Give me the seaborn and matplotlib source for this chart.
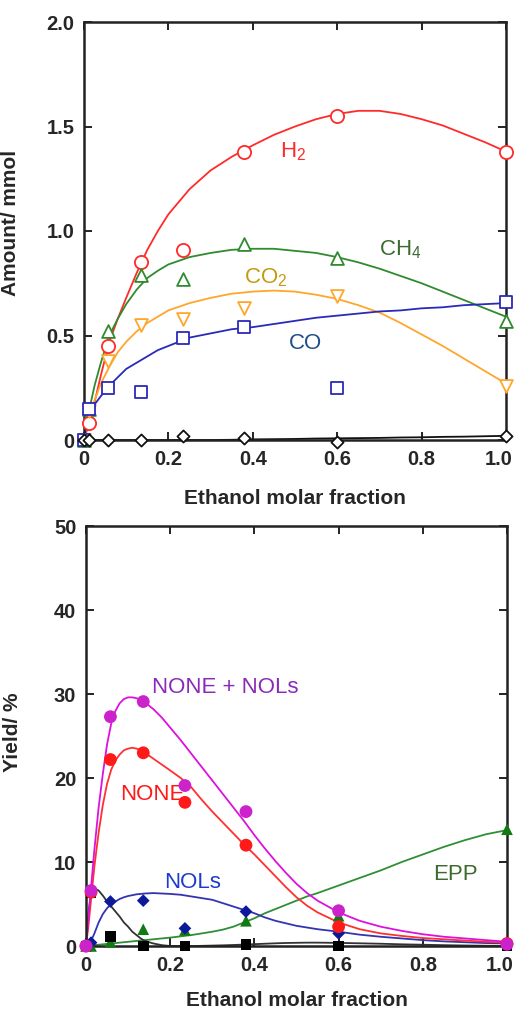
import numpy as np
import seaborn as sns
from matplotlib import pyplot as plt
from matplotlib.transforms import ScaledTranslation

sns.set_style('ticks')
plt.rcParams['font.family'] = ['Liberation Sans', 'DejaVu Sans']
plt.rcParams['mathtext.default'] = 'regular'

# measured points (same ethanol fractions in both panels)
x_pts = [0, 0.012, 0.058, 0.136, 0.235, 0.38, 0.6, 1.0]

h2 = [0, 0.08, 0.45, 0.85, 0.91, 1.38, 1.55, 1.38]
ch4 = [0, 0.15, 0.52, 0.79, 0.77, 0.94, 0.87, 0.57]
co2 = [0, 0.14, 0.38, 0.55, 0.58, 0.63, 0.69, 0.26]
co = [0, 0.15, 0.25, 0.23, 0.49, 0.54, 0.25, 0.66]
other = [0, 0.0, 0.0, 0.0, 0.02, 0.01, -0.01, 0.02]

none_nols = [0, 6.6, 27.3, 29.1, 19.1, 16.0, 4.2, 0.2]
none = [0, 6.4, 22.2, 23.0, 17.1, 12.0, 2.3, 0.3]
nols = [0, 0.4, 5.3, 5.4, 2.1, 4.1, 1.5, 0.3]
epp = [0, 0.0, 0.5, 2.0, 1.9, 3.0, 3.6, 13.9]
black_sq = [0, 6.3, 1.1, 0.0, 0.0, 0.2, 0.0, 0.1]

# fitted curves
cx_top = [0, 0.012, 0.025, 0.04, 0.06, 0.08, 0.1, 0.125, 0.15, 0.175, 0.2, 0.25, 0.3, 0.35,
          0.4, 0.45, 0.5, 0.55, 0.6, 0.65, 0.7, 0.75, 0.8, 0.85, 0.9, 0.95, 1.0]
h2_fit = [0, 0.08, 0.18, 0.31, 0.47, 0.58, 0.68, 0.80, 0.91, 1.00, 1.08, 1.20, 1.29, 1.355,
          1.41, 1.46, 1.50, 1.535, 1.56, 1.575, 1.575, 1.56, 1.535, 1.505, 1.465, 1.425, 1.38]
ch4_fit = [0, 0.14, 0.26, 0.37, 0.50, 0.58, 0.65, 0.72, 0.775, 0.81, 0.84, 0.875, 0.895, 0.91,
           0.915, 0.915, 0.905, 0.895, 0.875, 0.85, 0.82, 0.785, 0.75, 0.71, 0.67, 0.63, 0.59]
co2_fit = [0, 0.12, 0.19, 0.27, 0.35, 0.42, 0.47, 0.52, 0.56, 0.59, 0.62, 0.655, 0.68, 0.70,
           0.71, 0.715, 0.71, 0.695, 0.675, 0.645, 0.61, 0.56, 0.505, 0.45, 0.39, 0.33, 0.27]
co_fit = [0, 0.14, 0.17, 0.21, 0.26, 0.30, 0.34, 0.37, 0.40, 0.43, 0.45, 0.49, 0.51, 0.53,
          0.54, 0.555, 0.57, 0.585, 0.595, 0.605, 0.615, 0.62, 0.63, 0.635, 0.645, 0.65, 0.655]
other_fit = [0, 0, 0, 0, 0, 0, 0, 0, 0, 0, 0, 0, 0, 0.001,
             0.003, 0.004, 0.005, 0.007, 0.008, 0.009, 0.01, 0.012, 0.013, 0.015, 0.016, 0.018, 0.02]

cx_bot = [0, 0.006, 0.012, 0.02, 0.03, 0.04, 0.05, 0.06, 0.07, 0.08, 0.09, 0.1, 0.11, 0.12,
          0.13, 0.14, 0.16, 0.18, 0.2, 0.225, 0.25, 0.275, 0.3, 0.325, 0.35, 0.375, 0.4, 0.425,
          0.45, 0.475, 0.5, 0.525, 0.55, 0.6, 0.65, 0.7, 0.75, 0.8, 0.85, 0.9, 0.95, 1.0]
none_nols_fit = [0, 3.5, 7.0, 11.5, 16.5, 20.5, 24.0, 26.5, 28.0, 28.9, 29.4, 29.6, 29.6, 29.5,
                 29.3, 29.0, 28.2, 27.2, 26.0, 24.5, 22.9, 21.3, 19.7, 18.1, 16.5, 14.9, 13.2, 11.6,
                 10.1, 8.7, 7.4, 6.3, 5.4, 4.0, 3.0, 2.3, 1.8, 1.4, 1.1, 0.9, 0.7, 0.5]
none_fit = [0, 2.5, 5.5, 9.5, 13.5, 16.8, 19.3, 21.0, 22.1, 22.8, 23.3, 23.5, 23.6, 23.5,
            23.3, 23.0, 22.3, 21.6, 20.9, 20.0, 18.9, 17.4, 16.0, 14.7, 13.4, 12.1, 10.9, 9.6,
            8.3, 7.0, 5.8, 4.8, 4.0, 2.8, 2.0, 1.5, 1.2, 0.95, 0.8, 0.65, 0.5, 0.4]
nols_fit = [0, 0.3, 0.6, 1.5, 2.8, 3.8, 4.5, 5.0, 5.3, 5.6, 5.8, 5.95, 6.05, 6.15,
            6.2, 6.25, 6.3, 6.25, 6.2, 6.1, 5.9, 5.7, 5.5, 5.1, 4.7, 4.3, 3.9, 3.4,
            3.0, 2.7, 2.4, 2.2, 2.0, 1.7, 1.35, 1.1, 0.9, 0.7, 0.55, 0.45, 0.35, 0.3]
epp_fit = [0, 0.02, 0.05, 0.1, 0.15, 0.2, 0.25, 0.3, 0.35, 0.4, 0.45, 0.5, 0.55, 0.6,
           0.65, 0.7, 0.8, 0.9, 1.0, 1.15, 1.3, 1.5, 1.7, 1.95, 2.3, 2.8, 3.3, 3.9,
           4.4, 4.9, 5.4, 5.9, 6.3, 7.2, 8.1, 9.0, 10.0, 10.9, 11.8, 12.6, 13.3, 13.8]
black_fit = [0, 4.0, 6.3, 6.9, 6.6, 6.0, 5.3, 4.7, 4.1, 3.5, 2.8, 2.3, 1.7, 1.3,
             0.9, 0.6, 0.3, 0.1, 0.0, 0.0, 0.0, 0.02, 0.05, 0.08, 0.12, 0.17, 0.22, 0.27,
             0.32, 0.36, 0.38, 0.4, 0.4, 0.37, 0.32, 0.27, 0.2, 0.15, 0.1, 0.06, 0.03, 0.0]

x_ticks = [0, 0.2, 0.4, 0.6, 0.8, 1.0]
x_ticklabels = ['0', '0.2', '0.4', '0.6', '0.8', '1.0']
top_yticks = [0, 0.5, 1.0, 1.5, 2.0]
top_yticklabels = ['0', '0.5', '1.0', '1.5', '2.0']
bot_yticks = [0, 10, 20, 30, 40, 50]
bot_yticklabels = ['0', '10', '20', '30', '40', '50']

fig = plt.figure(figsize=(5.18, 10.14), dpi=100)
ax1 = fig.add_axes([84 / 518, 1 - 440 / 1014, 422 / 518, 418 / 1014])
ax2 = fig.add_axes([86 / 518, 1 - 946 / 1014, 421 / 518, 420 / 1014])

lw = 1.3

# ---- top panel: gas amounts ----
top_series = [
    (h2_fit, h2, '#ff2a2a', 'o', 90),
    (ch4_fit, ch4, '#2e8b2e', '^', 85),
    (co2_fit, co2, '#ffa62b', 'v', 85),
    (co_fit, co, '#2a2ab8', 's', 85),
    (other_fit, other, '#111111', 'D', 38),
]
for fit, pts, col, mk, sz in top_series:
    sns.lineplot(x=cx_top, y=fit, ax=ax1, color=col, lw=lw, sort=False, estimator=None)
for fit, pts, col, mk, sz in top_series:
    sns.scatterplot(x=x_pts, y=pts, ax=ax1, marker=mk, s=sz, facecolor='white',
                    edgecolor=col, linewidth=1.3, clip_on=False, zorder=5)

ax1.text(0.495, 1.38, 'H$_2$', color='#ff2a2a', fontsize=16, ha='center', va='center')
ax1.text(0.75, 0.91, 'CH$_4$', color='#3d6b2f', fontsize=16, ha='center', va='center')
ax1.text(0.43, 0.775, 'CO$_2$', color='#c49a12', fontsize=16, ha='center', va='center')
ax1.text(0.526, 0.46, 'CO', color='#1f4f8a', fontsize=16, ha='center', va='center')

ax1.set_xlim(0, 1.0)
ax1.set_ylim(0, 2.0)
ax1.set_yticks(top_yticks)
ax1.set_yticklabels(top_yticklabels)
ax1.set_ylabel('Amount/ mmol', fontsize=15, fontweight='bold')
ax1.yaxis.set_label_coords(-0.152, 0.52)
ax1.set_xlabel('Ethanol molar fraction', fontsize=15, fontweight='bold')
ax1.xaxis.set_label_coords(0.5, -0.118)

# ---- bottom panel: yields ----
bot_series = [
    (epp_fit, epp, '#2f8f36', '#127a12', '^', 70),
    (black_fit, black_sq, '#333333', '#000000', 's', 60),
    (nols_fit, nols, '#3434b0', '#0c1a99', 'D', 42),
    (none_fit, none, '#ff3030', '#ff1a1a', 'o', 85),
    (none_nols_fit, none_nols, '#dd11dd', '#cc22cc', 'o', 85),
]
for fit, pts, lcol, mcol, mk, sz in bot_series:
    sns.lineplot(x=cx_bot, y=fit, ax=ax2, color=lcol, lw=lw, sort=False, estimator=None)
for fit, pts, lcol, mcol, mk, sz in bot_series:
    sns.scatterplot(x=x_pts, y=pts, ax=ax2, marker=mk, s=sz, color=mcol,
                    edgecolor='none', linewidth=0, clip_on=False, zorder=5)

ax2.text(0.33, 30.8, 'NONE + NOLs', color='#8a2ab8', fontsize=16, ha='center', va='center')
ax2.text(0.157, 18.0, 'NONE', color='#ff1a1a', fontsize=16, ha='center', va='center')
ax2.text(0.252, 7.5, 'NOLs', color='#1a3ad0', fontsize=16, ha='center', va='center')
ax2.text(0.877, 8.5, 'EPP', color='#3d6b2f', fontsize=16, ha='center', va='center')

ax2.set_xlim(0, 1.0)
ax2.set_ylim(0, 50)
ax2.set_yticks(bot_yticks)
ax2.set_yticklabels(bot_yticklabels)
ax2.set_ylabel('Yield/ %', fontsize=15, fontweight='bold')
ax2.yaxis.set_label_coords(-0.152, 0.51)
ax2.set_xlabel('Ethanol molar fraction', fontsize=15, fontweight='bold')
ax2.xaxis.set_label_coords(0.5, -0.108)

for ax in (ax1, ax2):
    ax.set_xticks(x_ticks)
    ax.set_xticklabels(x_ticklabels)
    ax.tick_params(direction='in', length=6, width=1.4, top=True, right=True,
                   labelsize=14.5, pad=7, color='#222222')
    for lab in ax.get_xticklabels() + ax.get_yticklabels():
        lab.set_fontweight('bold')
    # keep the last x label inside the canvas, as in the original
    last = ax.get_xticklabels()[-1]
    last.set_transform(last.get_transform() + ScaledTranslation(-0.07, 0, fig.dpi_scale_trans))
    for sp in ax.spines.values():
        sp.set_linewidth(1.8)
        sp.set_color('#222222')

fig.savefig('out.png', dpi=100, facecolor='white')
